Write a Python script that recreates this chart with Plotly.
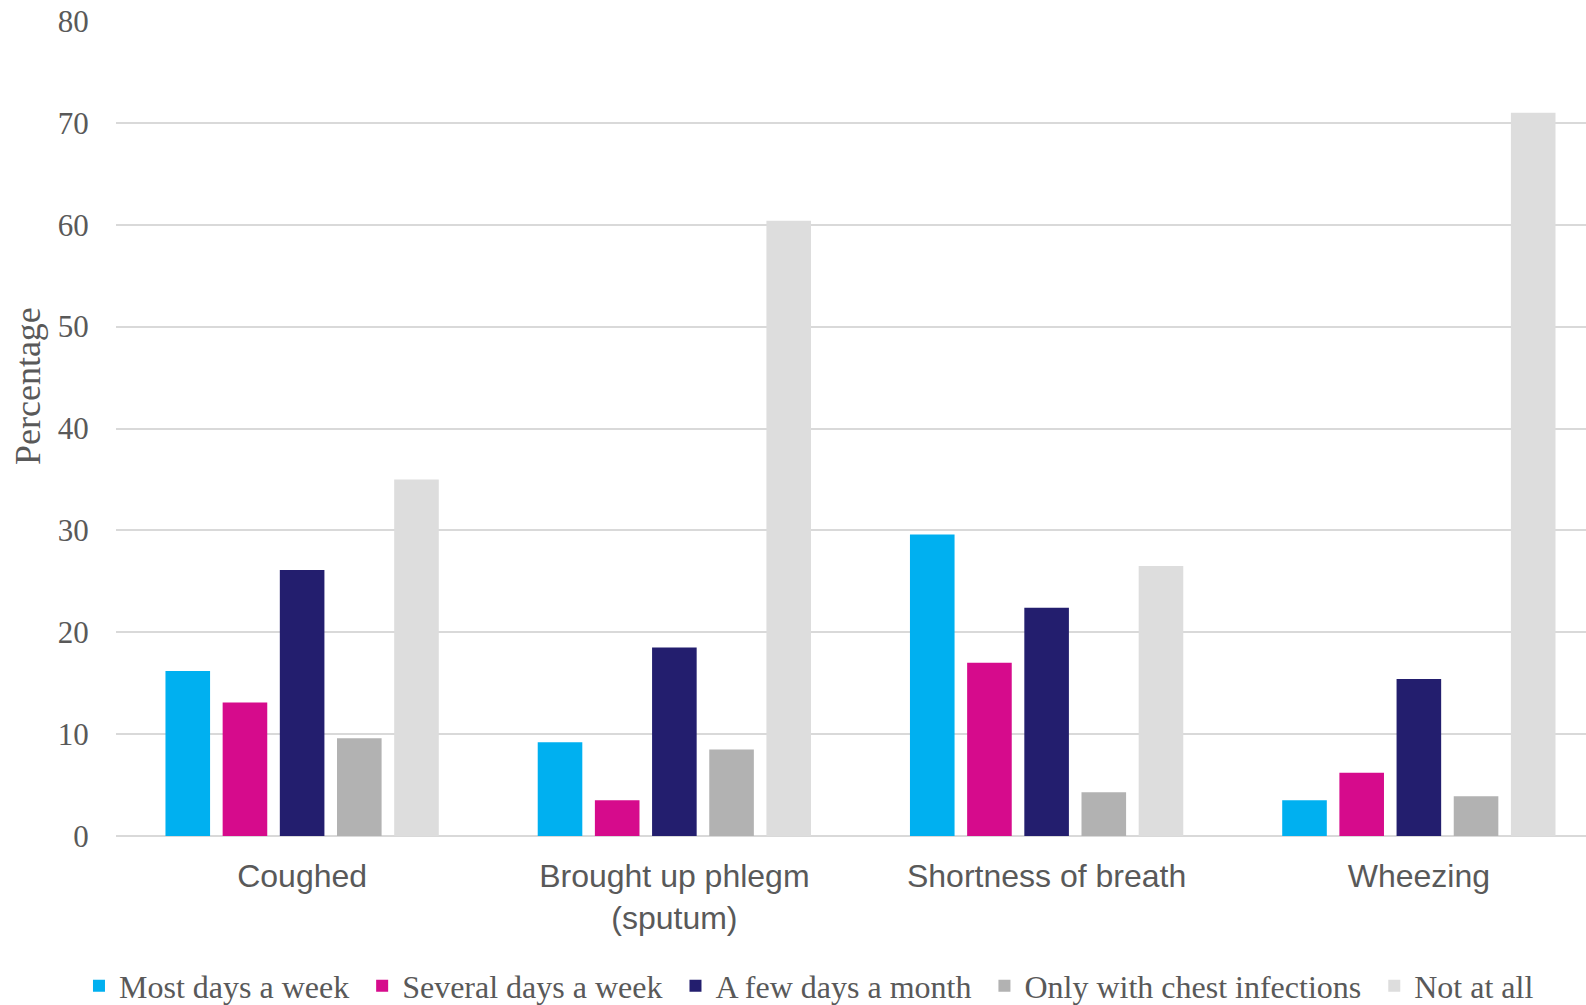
import plotly.graph_objects as go

categories = ["Coughed", "Brought up phlegm<br>(sputum)", "Shortness of breath", "Wheezing"]
series_names = [
    "Most days a week",
    "Several days a week",
    "A few days a month",
    "Only with chest infections",
    "Not at all",
]
most_days = [16.2, 9.2, 29.6, 3.5]
several_days = [13.1, 3.5, 17.0, 6.2]
few_days_month = [26.1, 18.5, 22.4, 15.4]
chest_infections = [9.6, 8.5, 4.3, 3.9]
not_at_all = [35.0, 60.4, 26.5, 71.0]
y_ticks = [0, 10, 20, 30, 40, 50, 60, 70, 80]

series_values = [most_days, several_days, few_days_month, chest_infections, not_at_all]
colors = ["#00B0F0", "#D60B8C", "#231E6E", "#B2B2B2", "#DDDDDD"]

SERIF = "Liberation Serif, Times New Roman, serif"
SANS = "Liberation Sans, Arial, sans-serif"
TEXT = "#595959"

fig = go.Figure()
for name, vals, col in zip(series_names, series_values, colors):
    fig.add_trace(go.Bar(
        x=categories, y=vals,
        # a trailing no-break space widens the gap between legend entries
        name=name + "\u00a0",
        marker=dict(color=col, line=dict(width=0)),
        hovertemplate="%{x}: %{y}<extra>" + name + "</extra>",
    ))

fig.update_layout(
    width=1586, height=1005,
    margin=dict(l=116, r=0, t=21, b=169, pad=0),
    paper_bgcolor="white", plot_bgcolor="white",
    barmode="group", bargap=0.232, bargroupgap=0.22,
    showlegend=True,
    legend=dict(
        orientation="h", xref="container", yref="container",
        x=0.0498, xanchor="left", y=0.019, yanchor="middle",
        font=dict(family=SERIF, size=32, color=TEXT),
        itemwidth=30, traceorder="normal",
        bgcolor="rgba(0,0,0,0)",
    ),
    xaxis=dict(
        range=[-0.5, 3.449],
        showgrid=False, showline=False, zeroline=False,
        ticks="outside", ticklen=12, tickcolor="rgba(0,0,0,0)",
        tickfont=dict(family=SANS, size=32, color=TEXT),
    ),
    yaxis=dict(
        range=[0, 80], tickvals=y_ticks,
        showgrid=True, gridcolor="#D9D9D9", gridwidth=2,
        zeroline=True, zerolinecolor="#D9D9D9", zerolinewidth=2,
        showline=False,
        ticks="outside", ticklen=20, tickcolor="rgba(0,0,0,0)",
        tickfont=dict(family=SERIF, size=31, color=TEXT),
    ),
    annotations=[dict(
        text="Percentage", textangle=-90,
        xref="paper", yref="paper", x=-0.0599, y=0.552,
        xanchor="center", yanchor="middle", showarrow=False,
        font=dict(family=SERIF, size=36, color=TEXT),
    )],
)

fig.write_html("out.html")
